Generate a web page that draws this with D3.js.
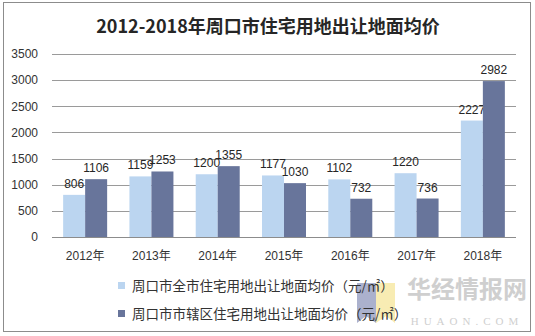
<!DOCTYPE html>
<html><head><meta charset="utf-8">
<script src="https://cdn.jsdelivr.net/npm/d3@7"></script>
<style>
html,body{margin:0;padding:0;background:#fff;}
svg{display:block;}
</style></head>
<body>
<script>
const title = "2012-2018年周口市住宅用地出让地面均价";
const categories = ["2012年","2013年","2014年","2015年","2016年","2017年","2018年"];
const seriesAll = [806,1159,1200,1177,1102,1220,2227];
const seriesUrban = [1106,1253,1355,1030,732,736,2982];
const seriesNames = ["周口市全市住宅用地出让地面均价（元/㎡）","周口市市辖区住宅用地出让地面均价（元/㎡）"];
const yTicks = [0,500,1000,1500,2000,2500,3000,3500];
const colors = ["#BBD5F0","#68759B"];

(function(){
const W=535,H=336;
const font = "'Liberation Sans','Noto Sans CJK SC',sans-serif";
const svg = d3.select("body").append("svg").attr("width",W).attr("height",H);
svg.append("rect").attr("x",0).attr("y",0).attr("width",W).attr("height",H).attr("fill","#fff");
svg.append("rect").attr("x",3.5).attr("y",2.5).attr("width",527).attr("height",329)
  .attr("fill","none").attr("stroke","#8c8c8c").attr("stroke-width",1);

svg.append("text").attr("x",268).attr("y",33).attr("text-anchor","middle")
  .attr("font-family","'Noto Sans CJK SC',sans-serif").attr("font-weight","bold")
  .attr("font-size",18).attr("fill","#262626").text(title);

const pl=52,pr=516,pt=54,pb=237;
const x = d3.scaleBand().domain(categories).range([pl,pr]).padding(0);
const y = d3.scaleLinear().domain([0,3500]).range([pb,pt]);
const barW = 22;

const g = svg.append("g");
g.selectAll("line.grid").data(yTicks).enter().append("line")
  .attr("x1",pl).attr("x2",pr)
  .attr("y1",d=>Math.round(y(d))+0.5).attr("y2",d=>Math.round(y(d))+0.5)
  .attr("stroke","#9a9a9a").attr("stroke-width",1);
const yAxis = d3.axisLeft(y).tickValues(yTicks).tickSize(0).tickPadding(0).tickFormat(d3.format("d"));
const ya = svg.append("g").attr("transform",`translate(38,0)`).call(yAxis);
ya.select(".domain").remove();
ya.selectAll("text").attr("font-family",font).attr("font-size",12).attr("fill","#333");

const xAxis = d3.axisBottom(x).tickSize(0).tickPadding(0);
const xa = svg.append("g").attr("transform",`translate(0,${pb+14})`).call(xAxis);
xa.select(".domain").remove();
xa.selectAll("text").attr("font-family",font).attr("font-size",12).attr("fill","#333");

const series=[seriesAll,seriesUrban];
series.forEach((vals,si)=>{
  const off = x.bandwidth()/2 - barW + si*barW;
  g.selectAll("rect.s"+si).data(vals).enter().append("rect")
    .attr("x",(d,i)=>x(categories[i])+off)
    .attr("y",d=>y(d)).attr("width",barW).attr("height",d=>pb-y(d))
    .attr("fill",colors[si]);
  g.selectAll("text.s"+si).data(vals).enter().append("text")
    .attr("x",(d,i)=>x(categories[i])+off+barW/2)
    .attr("y",d=>y(d)-7).attr("text-anchor","middle")
    .attr("font-family",font).attr("font-size",12).attr("fill","#262626")
    .text(d=>d);
});
g.append("line").attr("x1",pl).attr("x2",pr).attr("y1",pb+0.5).attr("y2",pb+0.5)
  .attr("stroke","#8c8c8c");

svg.append("path").attr("d","M357,283 L376,283 L376,323 L366,316 L357,323 Z").attr("fill","#9ca3c4").attr("opacity",0.85);
svg.append("path").attr("d","M376,283 L395,283 L395,323 L386,316 L376,323 Z").attr("fill","#f7e9a6").attr("opacity",0.85);

const leg = svg.append("g");
seriesNames.forEach((n,i)=>{
  const ly = 286 + i*28;
  leg.append("rect").attr("x",118).attr("y",ly-4).attr("width",7).attr("height",7).attr("fill",colors[i]);
  leg.append("text").attr("x",132).attr("y",ly+5).attr("font-family","'Noto Sans CJK SC',sans-serif")
    .attr("font-size",13.5).attr("fill","#333").text(n);
});

svg.append("text").attr("x",467).attr("y",298).attr("text-anchor","middle")
  .attr("font-family","'Noto Sans CJK SC',sans-serif").attr("font-weight","bold")
  .attr("font-size",24).attr("fill","#cfcfcf").text("华经情报网");
svg.append("text").attr("x",467).attr("y",325).attr("text-anchor","middle")
  .attr("font-family","'Liberation Serif',serif").attr("font-size",11)
  .attr("letter-spacing",5).attr("fill","#cfcfcf").text("HUAON.COM");
})();
</script>
</body></html>
